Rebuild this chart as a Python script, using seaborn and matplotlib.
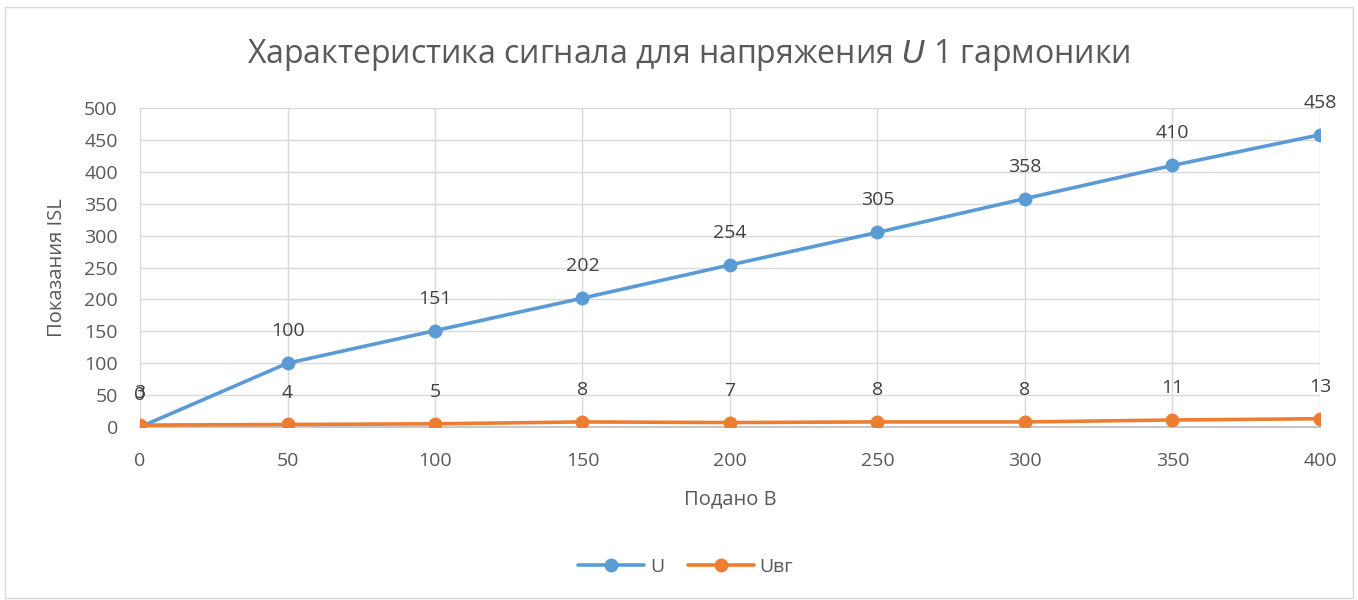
import matplotlib
matplotlib.use("Agg")
import matplotlib.pyplot as plt
import seaborn as sns
import pandas as pd
from matplotlib.patches import Rectangle

# Applied voltage and the readings of both channels
applied = [0, 50, 100, 150, 200, 250, 300, 350, 400]
u_values = [0, 100, 151, 202, 254, 305, 358, 410, 458]
uvg_values = [3, 4, 5, 8, 7, 8, 8, 11, 13]
series_names = ["U", "Uвг"]
colors = ["#5B9BD5", "#ED7D31"]

df = pd.concat([
    pd.DataFrame({"x": applied, "y": u_values, "series": series_names[0]}),
    pd.DataFrame({"x": applied, "y": uvg_values, "series": series_names[1]}),
])

sns.set_theme(style="white")
plt.rcParams["font.family"] = ["Open Sans", "DejaVu Sans"]
text_color = "#595959"

fig = plt.figure(figsize=(13.58, 6.0), dpi=100)
ax = fig.add_axes([0.1031, 0.2883, 0.8689, 0.5317])

sns.lineplot(data=df, x="x", y="y", hue="series", palette=colors,
             marker="o", markersize=10, linewidth=2.6,
             markeredgewidth=0, ax=ax, legend=False, zorder=3)

for vals, name in zip([u_values, uvg_values], series_names):
    for xv, yv in zip(applied, vals):
        ax.annotate(str(yv), (xv, yv), xytext=(0, 23), textcoords="offset points",
                    ha="center", va="center", fontsize=14, color="#404040", zorder=4)

ax.set_xlim(0, 400)
ax.set_ylim(0, 500)
ax.set_xticks(applied)
ax.set_yticks(range(0, 501, 50))
ax.grid(True, color="#d9d9d9", linewidth=1)
ax.set_axisbelow(True)
for side in ["top", "right", "left"]:
    ax.spines[side].set_visible(False)
ax.spines["bottom"].set_color("#bfbfbf")
ax.tick_params(axis="both", length=0, labelsize=14, colors=text_color)
ax.tick_params(axis="x", pad=18)
ax.tick_params(axis="y", pad=16)

ax.set_xlabel("Подано В", fontsize=14.5, color=text_color, labelpad=14)
ax.set_ylabel("Показания ISL", fontsize=14.5, color=text_color, labelpad=12)

fig.text(0.507, 0.908, "Характеристика сигнала для напряжения $\\it{U}$ 1 гармоники",
         ha="center", va="center", fontsize=23, color=text_color)

handles = [plt.Line2D([0], [0], color=c, linewidth=2.6, marker="o", markersize=10,
                      markeredgewidth=0) for c in colors]
fig.legend(handles, series_names, loc="center", bbox_to_anchor=(0.505, 0.055),
           ncol=2, frameon=False, fontsize=14, handlelength=3.4,
           columnspacing=1.2, handletextpad=0.3, labelcolor=text_color)

fig.add_artist(Rectangle((0.004, 0.003), 0.992, 0.985, transform=fig.transFigure,
                         fill=False, edgecolor="#d9d9d9", linewidth=1))

fig.savefig("out.png", dpi=100)
